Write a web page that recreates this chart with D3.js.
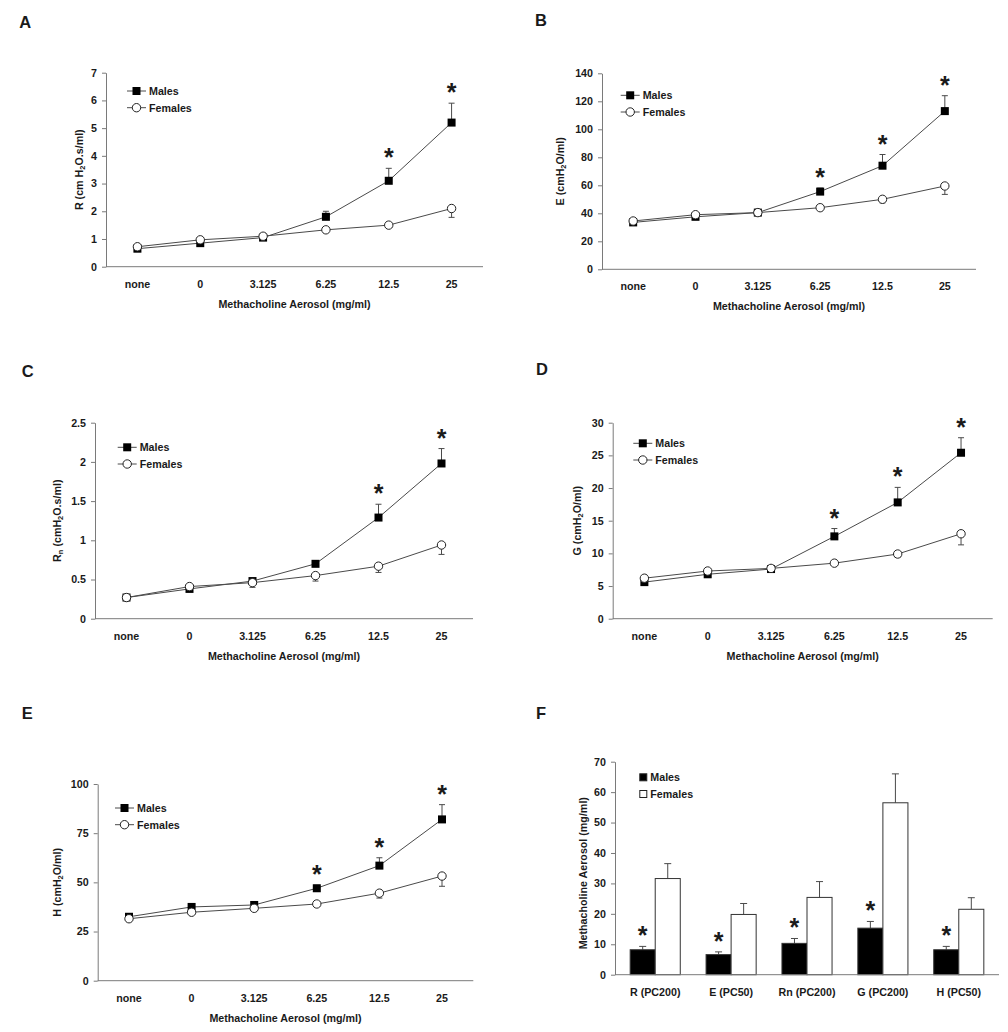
<!DOCTYPE html>
<html><head><meta charset="utf-8">
<script src="https://cdn.jsdelivr.net/npm/d3@7"></script>
<style>
body{margin:0;background:#fff;}
svg text{font-family:"Liberation Sans",Arial,sans-serif;font-weight:bold;fill:#1a1a1a;}
</style></head><body>
<svg id="c" width="1008" height="1032"></svg>
<script>
// ---------- DATA ----------
const doses = ["none", "0", "3.125", "6.25", "12.5", "25"];
const sexes = ["Males", "Females"];
const xTitle = "Methacholine Aerosol (mg/ml)";

// A: R
const rMales = [0.65, 0.85, 1.05, 1.8, 3.1, 5.2];
const rMalesSem = [0.03, 0.04, 0.05, 0.2, 0.45, 0.7];
const rFemales = [0.72, 0.97, 1.1, 1.33, 1.5, 2.1];
const rFemalesSem = [0.03, 0.04, 0.05, 0.06, 0.08, 0.32];
const rStars = ["12.5", "25"];
const rTicks = [0, 1, 2, 3, 4, 5, 6, 7];

// B: E
const eMales = [33.5, 37.5, 40.5, 55.5, 74, 113];
const eMalesSem = [1, 1, 1.5, 2.5, 8, 11];
const eFemales = [34.5, 39, 40.5, 44, 50, 59.5];
const eFemalesSem = [1, 1, 1, 1.5, 2.5, 6];
const eStars = ["6.25", "12.5", "25"];
const eTicks = [0, 20, 40, 60, 80, 100, 120, 140];

// C: Rn
const rnMales = [0.27, 0.38, 0.48, 0.70, 1.29, 1.98];
const rnMalesSem = [0.01, 0.02, 0.02, 0.03, 0.17, 0.19];
const rnFemales = [0.27, 0.41, 0.46, 0.55, 0.67, 0.94];
const rnFemalesSem = [0.01, 0.02, 0.06, 0.07, 0.08, 0.12];
const rnStars = ["12.5", "25"];
const rnTicks = [0, 0.5, 1, 1.5, 2, 2.5];

// D: G
const gMales = [5.6, 6.8, 7.6, 12.6, 17.8, 25.4];
const gMalesSem = [0.3, 0.3, 0.3, 1.2, 2.3, 2.3];
const gFemales = [6.2, 7.3, 7.7, 8.5, 9.9, 13.0];
const gFemalesSem = [0.3, 0.3, 0.3, 0.3, 0.5, 1.7];
const gStars = ["6.25", "12.5", "25"];
const gTicks = [0, 5, 10, 15, 20, 25, 30];

// E: H
const hMales = [32.5, 37.5, 38.5, 47, 58.5, 82];
const hMalesSem = [1, 1, 1, 1.5, 4, 7.5];
const hFemales = [31.5, 34.8, 36.8, 39, 44.5, 53.2];
const hFemalesSem = [1, 1, 1, 1, 2.5, 5.2];
const hStars = ["6.25", "12.5", "25"];
const hTicks = [0, 25, 50, 75, 100];

// F: PC values
const pcCategories = ["R (PC200)", "E (PC50)", "Rn (PC200)", "G (PC200)", "H (PC50)"];
const pcMales = [8.2, 6.6, 10.3, 15.3, 8.2];
const pcMalesSem = [1.1, 0.9, 1.6, 2.2, 1.1];
const pcFemales = [31.6, 19.8, 25.4, 56.5, 21.5];
const pcFemalesSem = [4.9, 3.6, 5.2, 9.5, 3.8];
const pcStars = ["R (PC200)", "E (PC50)", "Rn (PC200)", "G (PC200)", "H (PC50)"];
const pcTicks = [0, 10, 20, 30, 40, 50, 60, 70];

// ---------- DRAWING ----------
const svg = d3.select("#c");
const FS = 10.7;
const AXIS = "#7a7a7a";
const LINE = "#4a4a4a";

function panelLetter(txt, x, y) {
  svg.append("text").attr("x", x).attr("y", y).attr("font-size", 16.5).text(txt);
}

function yTitle(g, parts, x, y) {
  const t = g.append("text").attr("transform", `translate(${x},${y}) rotate(-90)`)
    .attr("text-anchor", "middle").attr("dominant-baseline", "central").attr("font-size", FS);
  let shifted = false;
  parts.forEach(([s, sub]) => {
    const ts = t.append("tspan").text(s);
    if (sub) { ts.attr("font-size", 7.5).attr("dy", 2.5); shifted = true; }
    else if (shifted) { ts.attr("dy", -2.5); shifted = false; }
  });
}

function yAxis(g, y, ticks, left) {
  const ax = g.append("g").attr("transform", `translate(${left},0)`)
    .call(d3.axisLeft(y).tickValues(ticks).tickSize(4).tickSizeOuter(0).tickPadding(5).tickFormat(d3.format("~g")));
  ax.select(".domain").attr("stroke", AXIS);
  ax.selectAll(".tick line").attr("stroke", AXIS);
  ax.selectAll(".tick text").attr("font-size", FS).attr("fill", "#1a1a1a")
    .style("font-family", '"Liberation Sans",Arial,sans-serif').style("font-weight", "bold");
}

// asterisk centred ~15px above the top of the error bar
function star(g, x, yTop) {
  g.append("text").attr("x", x).attr("y", yTop - 2).attr("text-anchor", "middle")
    .attr("font-size", 25).text("*");
}

function linePanel(L, m, ms, f, fs, stars, ticks, titleParts) {
  const g = svg.append("g");
  const x = d3.scalePoint().domain(doses).range([L.left, L.right]).padding(0.5);
  const y = d3.scaleLinear().domain([0, ticks[ticks.length - 1]]).range([L.bottom, L.top]);
  yAxis(g, y, ticks, L.left);
  g.append("line").attr("x1", L.left).attr("x2", L.right).attr("y1", L.bottom).attr("y2", L.bottom)
    .attr("stroke", AXIS);
  g.selectAll(".xl").data(doses).join("text")
    .attr("x", d => x(d)).attr("y", L.bottom + 17).attr("dominant-baseline", "central")
    .attr("text-anchor", "middle").attr("font-size", FS).text(d => d);
  g.append("text").attr("x", (L.left + L.right) / 2).attr("y", L.bottom + 37)
    .attr("dominant-baseline", "central").attr("text-anchor", "middle").attr("font-size", FS).text(xTitle);
  yTitle(g, titleParts, L.titleX, (L.top + L.bottom) / 2);

  const line = d3.line().x((d, i) => x(doses[i])).y(d => y(d));
  const eb = (vals, sems, dir) => {
    vals.forEach((v, i) => {
      const cx = x(doses[i]);
      const y1 = y(v), y2 = y(v + dir * sems[i]);
      g.append("line").attr("x1", cx).attr("x2", cx).attr("y1", y1).attr("y2", y2).attr("stroke", LINE);
      g.append("line").attr("x1", cx - 3).attr("x2", cx + 3).attr("y1", y2).attr("y2", y2).attr("stroke", LINE);
    });
  };
  eb(m, ms, 1);
  eb(f, fs, -1);
  g.append("path").datum(m).attr("d", line).attr("fill", "none").attr("stroke", LINE).attr("stroke-width", 1);
  g.append("path").datum(f).attr("d", line).attr("fill", "none").attr("stroke", LINE).attr("stroke-width", 1);
  g.selectAll(".ms").data(m).join("rect")
    .attr("x", (d, i) => x(doses[i]) - 4).attr("y", d => y(d) - 4)
    .attr("width", 8).attr("height", 8).attr("fill", "#000");
  g.selectAll(".fs").data(f).join("circle")
    .attr("cx", (d, i) => x(doses[i])).attr("cy", d => y(d)).attr("r", 4.2)
    .attr("fill", "#fff").attr("stroke", "#222").attr("stroke-width", 1);
  stars.forEach(s => {
    const i = doses.indexOf(s);
    star(g, x(s), y(m[i] + ms[i]));
  });
  const [lx, ly] = L.legend;
  sexes.forEach((s, k) => {
    const yy = ly + k * 16.7;
    g.append("line").attr("x1", lx).attr("x2", lx + 19).attr("y1", yy).attr("y2", yy).attr("stroke", LINE);
    if (k === 0) g.append("rect").attr("x", lx + 5.5).attr("y", yy - 4).attr("width", 8).attr("height", 8).attr("fill", "#000");
    else g.append("circle").attr("cx", lx + 9.5).attr("cy", yy).attr("r", 4.2).attr("fill", "#fff").attr("stroke", "#222");
    g.append("text").attr("x", lx + 22).attr("y", yy).attr("dominant-baseline", "central")
      .attr("font-size", FS).text(s);
  });
}

linePanel({left: 106, right: 483, top: 72.7, bottom: 266.7, titleX: 79, legend: [127, 91]},
  rMales, rMalesSem, rFemales, rFemalesSem, rStars, rTicks,
  [["R (cm H", 0], ["2", 1], ["O.s/ml)", 0]]);
linePanel({left: 602, right: 976, top: 73.3, bottom: 269.3, titleX: 560, legend: [620.7, 95.3]},
  eMales, eMalesSem, eFemales, eFemalesSem, eStars, eTicks,
  [["E (cmH", 0], ["2", 1], ["O/ml)", 0]]);
linePanel({left: 95, right: 473, top: 422.7, bottom: 618.7, titleX: 57, legend: [117.7, 447.3]},
  rnMales, rnMalesSem, rnFemales, rnFemalesSem, rnStars, rnTicks,
  [["R", 0], ["n", 1], [" (cmH", 0], ["2", 1], ["O.s/ml)", 0]]);
linePanel({left: 612.7, right: 992.7, top: 422.7, bottom: 618.7, titleX: 577, legend: [633.3, 443.3]},
  gMales, gMalesSem, gFemales, gFemalesSem, gStars, gTicks,
  [["G (cmH", 0], ["2", 1], ["O/ml)", 0]]);
linePanel({left: 97.7, right: 473.3, top: 784, bottom: 980.7, titleX: 57, legend: [115, 808]},
  hMales, hMalesSem, hFemales, hFemalesSem, hStars, hTicks,
  [["H (cmH", 0], ["2", 1], ["O/ml)", 0]]);

// Bar panel F
(function () {
  const L = {left: 615, right: 999, top: 761.7, bottom: 974.7, titleX: 583.3, legend: [643.3, 777.3]};
  const g = svg.append("g");
  const x = d3.scaleBand().domain(pcCategories).range([L.left, L.right]).paddingInner(0.34).paddingOuter(0.2);
  const xs = d3.scaleBand().domain(sexes).range([0, x.bandwidth()]);
  const y = d3.scaleLinear().domain([0, pcTicks[pcTicks.length - 1]]).range([L.bottom, L.top]);
  yAxis(g, y, pcTicks, L.left);
  yTitle(g, [["Methacholine Aerosol (mg/ml)", 0]], L.titleX, (L.top + L.bottom) / 2 + 5);
  const series = [[pcMales, pcMalesSem, "#000"], [pcFemales, pcFemalesSem, "#fff"]];
  series.forEach(([vals, sems, fill], k) => {
    vals.forEach((v, i) => {
      const c = pcCategories[i];
      const bx = x(c) + xs(sexes[k]);
      const cx = bx + xs.bandwidth() / 2;
      const yt = y(v + sems[i]);
      g.append("line").attr("x1", cx).attr("x2", cx).attr("y1", y(v)).attr("y2", yt).attr("stroke", LINE);
      g.append("line").attr("x1", cx - 3.5).attr("x2", cx + 3.5).attr("y1", yt).attr("y2", yt).attr("stroke", LINE);
      g.append("rect").attr("x", bx).attr("y", y(v)).attr("width", xs.bandwidth())
        .attr("height", L.bottom - y(v)).attr("fill", fill).attr("stroke", "#333").attr("stroke-width", 1);
    });
  });
  g.append("line").attr("x1", L.left).attr("x2", L.right).attr("y1", L.bottom).attr("y2", L.bottom).attr("stroke", AXIS);
  pcStars.forEach(c => {
    const i = pcCategories.indexOf(c);
    star(g, x(c) + xs("Males") + xs.bandwidth() / 2, y(pcMales[i] + pcMalesSem[i]));
  });
  g.selectAll(".xl").data(pcCategories).join("text")
    .attr("x", d => x(d) + x.bandwidth() / 2).attr("y", L.bottom + 17.3).attr("dominant-baseline", "central")
    .attr("text-anchor", "middle").attr("font-size", FS).text(d => d);
  const [lx, ly] = L.legend;
  sexes.forEach((s, k) => {
    const yy = ly + k * 16.7;
    g.append("rect").attr("x", lx - 3.5).attr("y", yy - 3.5).attr("width", 7).attr("height", 7)
      .attr("fill", k === 0 ? "#000" : "#fff").attr("stroke", "#222");
    g.append("text").attr("x", lx + 7).attr("y", yy).attr("dominant-baseline", "central")
      .attr("font-size", FS).text(s);
  });
})();

panelLetter("A", 19.3, 28);
panelLetter("B", 535, 26);
panelLetter("C", 21.7, 376.7);
panelLetter("D", 536, 375);
panelLetter("E", 21.7, 719.3);
panelLetter("F", 536, 719.3);
</script>
</body></html>
